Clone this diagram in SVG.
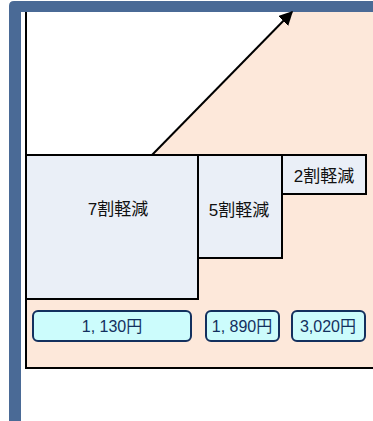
<svg xmlns="http://www.w3.org/2000/svg" width="373" height="421" viewBox="0 0 373 421">
<style>
.box{fill:#eaeff7;stroke:#000;stroke-width:2}
.lbl{font-family:"Liberation Sans","Noto Sans CJK JP",sans-serif;font-size:17px;fill:#111;text-anchor:middle;dominant-baseline:central}
.price rect{fill:#ccfcfc;stroke:#13305e;stroke-width:2}
.price text{font-family:"Liberation Sans","Noto Sans CJK JP",sans-serif;font-size:16px;fill:#13305e;text-anchor:middle;dominant-baseline:central}
</style>
<defs>
<marker id="ah" viewBox="0 0 10 10" refX="9" refY="5" markerWidth="7" markerHeight="7" orient="auto" markerUnits="strokeWidth">
<path d="M0,0 L10,5 L0,10 z" fill="#000"/>
</marker>
</defs>
<rect width="373" height="421" fill="#fff"/>
<g id="frame">
<path d="M9,421 V6 Q9,1 14,1 H373 V12 H21 V421 z" fill="#4a6a96"/>
</g>
<g id="area">
<path d="M152,155 L292,12 H373 V368 H26 V155 z" fill="#fde8da"/>
<path d="M26,12 V368 H373" fill="none" stroke="#000" stroke-width="2"/>
</g>
<g id="connectors">
<line x1="152" y1="155" x2="292" y2="12" stroke="#000" stroke-width="2" marker-end="url(#ah)"/>
</g>
<g id="n7">
<rect class="box" x="26" y="155" width="172" height="144"/>
<text class="lbl" x="118" y="209">7割軽減</text>
</g>
<g id="n5">
<rect class="box" x="198" y="155" width="84" height="103"/>
<text class="lbl" x="239" y="210">5割軽減</text>
</g>
<g id="n2">
<rect class="box" x="282" y="155" width="84" height="39"/>
<text class="lbl" x="324" y="176">2割軽減</text>
</g>
<g id="p1" class="price">
<rect x="33" y="311" width="158" height="30" rx="5"/>
<text x="112" y="326">1, 130円</text>
</g>
<g id="p2" class="price">
<rect x="206" y="311" width="73" height="30" rx="5"/>
<text x="242" y="326">1, 890円</text>
</g>
<g id="p3" class="price">
<rect x="292" y="311" width="73" height="30" rx="5"/>
<text x="328" y="326">3,020円</text>
</g>
</svg>
